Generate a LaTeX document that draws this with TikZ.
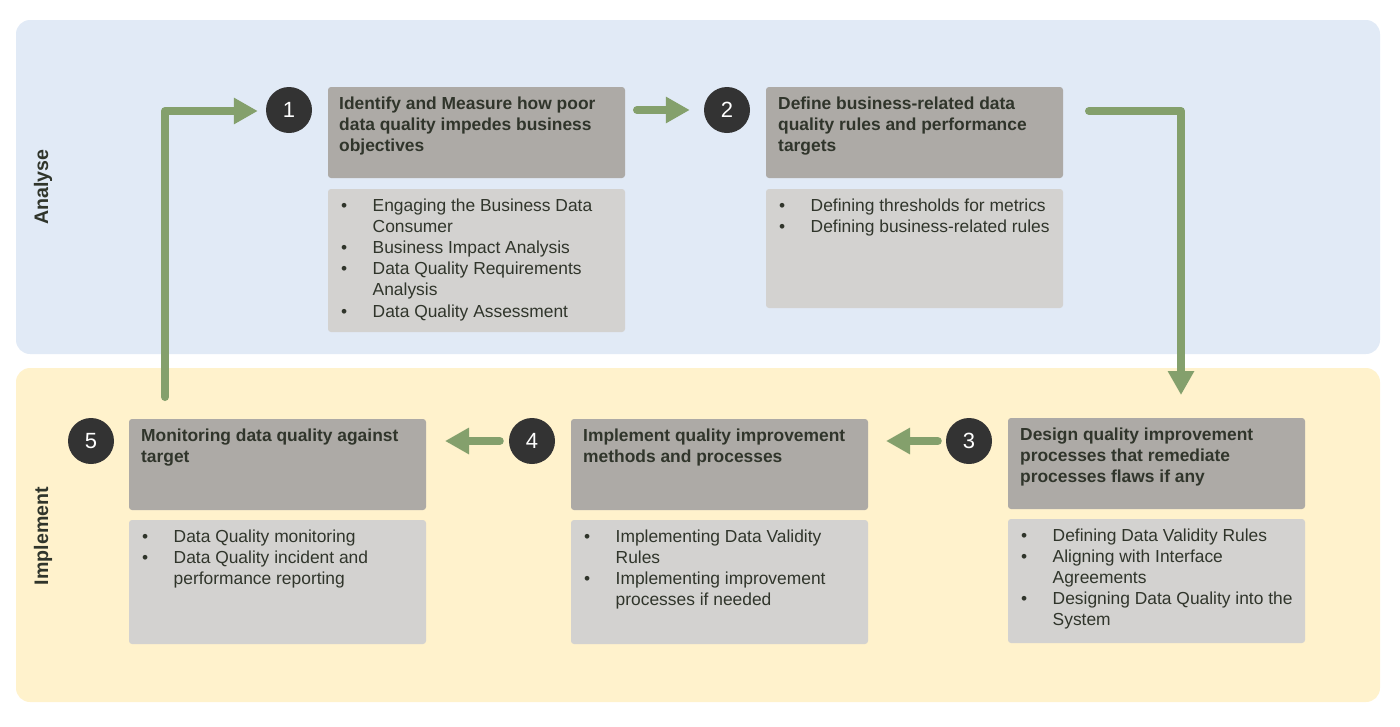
\documentclass[tikz,border=0pt]{standalone}
\usepackage{fontspec}
\setmainfont{Liberation Sans}
\usetikzlibrary{arrows.meta,calc}
\definecolor{panA}{HTML}{E1EAF6}
\definecolor{panB}{HTML}{FFF2CC}
\definecolor{hdr}{HTML}{ADAAA6}
\definecolor{bdy}{HTML}{D3D2D0}
\definecolor{arr}{HTML}{84A06C}
\definecolor{circ}{HTML}{333333}
\definecolor{txt}{HTML}{30352B}
\begin{document}
\begin{tikzpicture}[x=1pt,y=-1pt,
  panel/.style={fill=#1, draw=none, rounded corners=14pt, anchor=north west,
    minimum width=1364pt, minimum height=334pt, inner sep=0pt, outer sep=0pt},
  plabel/.style={rotate=90, text=txt, inner sep=0pt,
    font=\bfseries\fontsize{19.6}{23}\selectfont},
  hbox/.style={fill=hdr, draw=none, rounded corners=3pt, anchor=north west,
    minimum width=297pt, minimum height=91pt, inner sep=0pt, outer sep=0pt},
  bbox/.style={fill=bdy, draw=none, rounded corners=3pt, anchor=north west,
    minimum width=297pt, minimum height=#1, inner sep=0pt, outer sep=0pt},
  num/.style={circle, fill=circ, text=white, minimum size=46pt, inner sep=0pt,
    font=\fontsize{22}{26}\selectfont},
  htext/.style={anchor=base west, inner sep=0pt, text=txt,
    font=\bfseries\fontsize{17.4}{21.3}\selectfont},
  btext/.style={anchor=base west, inner sep=0pt, text=txt,
    font=\fontsize{17.4}{21.2}\selectfont},
  flow/.style={draw=arr, line width=8pt, line join=round, line cap=round,
    -{Triangle[width=25pt,length=24pt]}}
]
\useasboundingbox (0,0) rectangle (1400,726);

% panels
\node[panel=panA] (pA) at (16,20) {};
\node[panel=panB] (pB) at (16,368) {};
\node[plabel] (lA) at (43,187) {Analyse};
\node[plabel] (lB) at (43,536) {Implement};

% header boxes
\node[hbox] (h1) at (328,87) {};
\node[hbox] (h2) at (766,87) {};
\node[hbox] (h3) at (1008,418) {};
\node[hbox] (h4) at (571,419) {};
\node[hbox] (h5) at (129,419) {};

% body boxes
\node[bbox=143pt] (b1) at (328,189) {};
\node[bbox=119pt] (b2) at (766,189) {};
\node[bbox=124pt] (b3) at (1008,519) {};
\node[bbox=124pt] (b4) at (571,520) {};
\node[bbox=124pt] (b5) at (129,520) {};

% numbers
\node[num] (c1) at (289,110) {1};
\node[num] (c2) at (727,110) {2};
\node[num] (c3) at (969,441) {3};
\node[num] (c4) at (532,441) {4};
\node[num] (c5) at (91,441) {5};

% header texts
\node[htext] (ht1) at ($(h1.north west)+(11,22)$) {\begin{tabular}[t]{@{}l@{}}Identify and Measure how poor\\data quality impedes business\\objectives\end{tabular}};
\node[htext] (ht2) at ($(h2.north west)+(12,22)$) {\begin{tabular}[t]{@{}l@{}}Define business-related data\\quality rules and performance\\targets\end{tabular}};
\node[htext] (ht3) at ($(h3.north west)+(12,22)$) {\begin{tabular}[t]{@{}l@{}}Design quality improvement\\processes that remediate\\processes flaws if any\end{tabular}};
\node[htext] (ht4) at ($(h4.north west)+(12,22)$) {\begin{tabular}[t]{@{}l@{}}Implement quality improvement\\methods and processes\end{tabular}};
\node[htext] (ht5) at ($(h5.north west)+(12,22)$) {\begin{tabular}[t]{@{}l@{}}Monitoring data quality against\\target\end{tabular}};

% body texts
\node[btext] (bt1) at ($(b1.north west)+(13,22)$) {\begin{tabular}[t]{@{}p{31.5pt}@{}l@{}}
•&Engaging the Business Data\\
&Consumer\\
•&Business Impact Analysis\\
•&Data Quality Requirements\\
&Analysis\\
•&Data Quality Assessment\end{tabular}};
\node[btext] (bt2) at ($(b2.north west)+(13,22)$) {\begin{tabular}[t]{@{}p{31.5pt}@{}l@{}}
•&Defining thresholds for metrics\\
•&Defining business-related rules\end{tabular}};
\node[btext] (bt3) at ($(b3.north west)+(13,22)$) {\begin{tabular}[t]{@{}p{31.5pt}@{}l@{}}
•&Defining Data Validity Rules\\
•&Aligning with Interface\\
&Agreements\\
•&Designing Data Quality into the\\
&System\end{tabular}};
\node[btext] (bt4) at ($(b4.north west)+(13,22)$) {\begin{tabular}[t]{@{}p{31.5pt}@{}l@{}}
•&Implementing Data Validity\\
&Rules\\
•&Implementing improvement\\
&processes if needed\end{tabular}};
\node[btext] (bt5) at ($(b5.north west)+(13,22)$) {\begin{tabular}[t]{@{}p{31.5pt}@{}l@{}}
•&Data Quality monitoring\\
•&Data Quality incident and\\
&performance reporting\end{tabular}};

% connectors
\coordinate (t23) at (1181,111);
\coordinate (s51) at (165,397);
\coordinate (t51) at (165,111);
\draw[flow] ($(h1.east|-c1.center)+(12,0)$) -- ($(c2.west)+(-14,0)$);
\draw[flow] ($(h2.east|-t23)+(26,0)$) -- (t23) -- ($(h3.north-|t23)+(0,-23)$);
\draw[flow] ($(c3.west)+(-8,0)$) -- ($(h4.east|-c3.center)+(18,0)$);
\draw[flow] ($(c4.west)+(-9,0)$) -- ($(h5.east|-c4.center)+(19,0)$);
\draw[flow] (s51) -- (t51) -- ($(c1.west|-t51)+(-8,0)$);
\end{tikzpicture}
\end{document}
